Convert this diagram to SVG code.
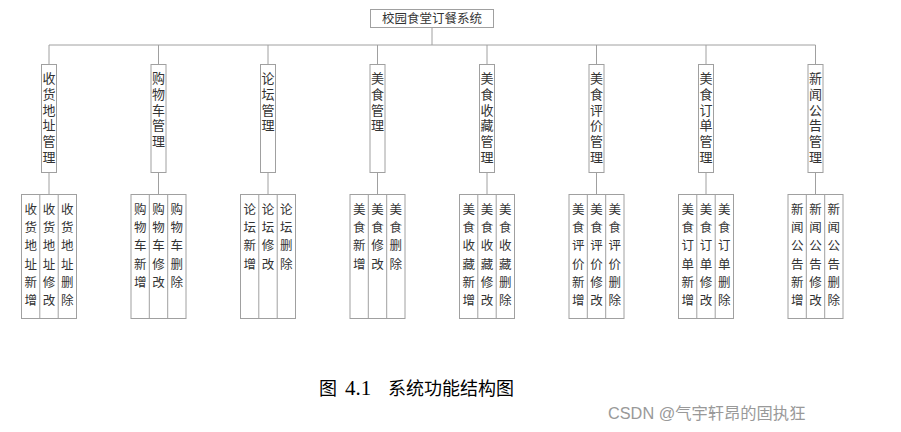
<svg xmlns="http://www.w3.org/2000/svg" width="901" height="432" viewBox="0 0 901 432">
<style>
.box{fill:#fff;stroke:#a0a0a0;stroke-width:1}
.ln{fill:none;stroke:#a0a0a0;stroke-width:1}
.t{font-family:"Noto Sans CJK SC","Noto Sans",sans-serif;fill:#333;text-anchor:middle}
.t2{font-size:13px}
.t3{font-size:12.5px}
.cap{font-family:"Liberation Serif","Noto Sans CJK SC",serif;font-size:21px;fill:#000}
.capz{font-family:"Noto Sans CJK SC",serif;font-size:18px}
.wm{font-family:"Liberation Sans","Noto Sans CJK SC",sans-serif;font-size:16.3px;fill:#999}
</style>
<rect width="901" height="432" fill="#fff"/>
<g id="connectors">
<path class="ln" d="M432,27V45M49,45H815.5M49,45V64M158.5,45V64M268,45V64M377.5,45V64M487,45V64M596.5,45V64M706,45V64M815.5,45V64"/>
<path class="ln" d="M49,173V194M158.5,173V194M268,173V194M377.5,173V194M487,173V194M596.5,173V194M706,173V194M815.5,173V194"/>
</g>
<g id="root">
<rect class="box" x="370.5" y="9.5" width="123" height="18"/>
<text class="t" x="432" y="23" font-size="12.5">校园食堂订餐系统</text>
</g>
<g id="n1">
<rect class="box" x="41.5" y="64.5" width="15" height="108"/>
<text class="t t2"><tspan x="49" y="83">收</tspan><tspan x="49" dy="15.8">货</tspan><tspan x="49" dy="15.8">地</tspan><tspan x="49" dy="15.8">址</tspan><tspan x="49" dy="15.8">管</tspan><tspan x="49" dy="15.8">理</tspan></text>
</g>
<g id="n2">
<rect class="box" x="151" y="64.5" width="15" height="108"/>
<text class="t t2"><tspan x="158.5" y="83">购</tspan><tspan x="158.5" dy="15.8">物</tspan><tspan x="158.5" dy="15.8">车</tspan><tspan x="158.5" dy="15.8">管</tspan><tspan x="158.5" dy="15.8">理</tspan></text>
</g>
<g id="n3">
<rect class="box" x="260.5" y="64.5" width="15" height="108"/>
<text class="t t2"><tspan x="268" y="83">论</tspan><tspan x="268" dy="15.8">坛</tspan><tspan x="268" dy="15.8">管</tspan><tspan x="268" dy="15.8">理</tspan></text>
</g>
<g id="n4">
<rect class="box" x="370" y="64.5" width="15" height="108"/>
<text class="t t2"><tspan x="377.5" y="83">美</tspan><tspan x="377.5" dy="15.8">食</tspan><tspan x="377.5" dy="15.8">管</tspan><tspan x="377.5" dy="15.8">理</tspan></text>
</g>
<g id="n5">
<rect class="box" x="479.5" y="64.5" width="15" height="108"/>
<text class="t t2"><tspan x="487" y="83">美</tspan><tspan x="487" dy="15.8">食</tspan><tspan x="487" dy="15.8">收</tspan><tspan x="487" dy="15.8">藏</tspan><tspan x="487" dy="15.8">管</tspan><tspan x="487" dy="15.8">理</tspan></text>
</g>
<g id="n6">
<rect class="box" x="589" y="64.5" width="15" height="108"/>
<text class="t t2"><tspan x="596.5" y="83">美</tspan><tspan x="596.5" dy="15.8">食</tspan><tspan x="596.5" dy="15.8">评</tspan><tspan x="596.5" dy="15.8">价</tspan><tspan x="596.5" dy="15.8">管</tspan><tspan x="596.5" dy="15.8">理</tspan></text>
</g>
<g id="n7">
<rect class="box" x="698.5" y="64.5" width="15" height="108"/>
<text class="t t2"><tspan x="706" y="83">美</tspan><tspan x="706" dy="15.8">食</tspan><tspan x="706" dy="15.8">订</tspan><tspan x="706" dy="15.8">单</tspan><tspan x="706" dy="15.8">管</tspan><tspan x="706" dy="15.8">理</tspan></text>
</g>
<g id="n8">
<rect class="box" x="808" y="64.5" width="15" height="108"/>
<text class="t t2"><tspan x="815.5" y="83">新</tspan><tspan x="815.5" dy="15.8">闻</tspan><tspan x="815.5" dy="15.8">公</tspan><tspan x="815.5" dy="15.8">告</tspan><tspan x="815.5" dy="15.8">管</tspan><tspan x="815.5" dy="15.8">理</tspan></text>
</g>
<g id="g1">
<rect class="box" x="21.5" y="194.5" width="55" height="124"/>
<path class="ln" d="M39.8,194.5V318.5M58.2,194.5V318.5"/>
<text class="t t3"><tspan x="30.7" y="214">收</tspan><tspan x="30.7" dy="18.2">货</tspan><tspan x="30.7" dy="18.2">地</tspan><tspan x="30.7" dy="18.2">址</tspan><tspan x="30.7" dy="18.2">新</tspan><tspan x="30.7" dy="18.2">增</tspan></text>
<text class="t t3"><tspan x="49" y="214">收</tspan><tspan x="49" dy="18.2">货</tspan><tspan x="49" dy="18.2">地</tspan><tspan x="49" dy="18.2">址</tspan><tspan x="49" dy="18.2">修</tspan><tspan x="49" dy="18.2">改</tspan></text>
<text class="t t3"><tspan x="67.3" y="214">收</tspan><tspan x="67.3" dy="18.2">货</tspan><tspan x="67.3" dy="18.2">地</tspan><tspan x="67.3" dy="18.2">址</tspan><tspan x="67.3" dy="18.2">删</tspan><tspan x="67.3" dy="18.2">除</tspan></text>
</g>
<g id="g2">
<rect class="box" x="131" y="194.5" width="55" height="124"/>
<path class="ln" d="M149.3,194.5V318.5M167.7,194.5V318.5"/>
<text class="t t3"><tspan x="140.2" y="214">购</tspan><tspan x="140.2" dy="18.2">物</tspan><tspan x="140.2" dy="18.2">车</tspan><tspan x="140.2" dy="18.2">新</tspan><tspan x="140.2" dy="18.2">增</tspan></text>
<text class="t t3"><tspan x="158.5" y="214">购</tspan><tspan x="158.5" dy="18.2">物</tspan><tspan x="158.5" dy="18.2">车</tspan><tspan x="158.5" dy="18.2">修</tspan><tspan x="158.5" dy="18.2">改</tspan></text>
<text class="t t3"><tspan x="176.8" y="214">购</tspan><tspan x="176.8" dy="18.2">物</tspan><tspan x="176.8" dy="18.2">车</tspan><tspan x="176.8" dy="18.2">删</tspan><tspan x="176.8" dy="18.2">除</tspan></text>
</g>
<g id="g3">
<rect class="box" x="240.5" y="194.5" width="55" height="124"/>
<path class="ln" d="M258.8,194.5V318.5M277.2,194.5V318.5"/>
<text class="t t3"><tspan x="249.7" y="214">论</tspan><tspan x="249.7" dy="18.2">坛</tspan><tspan x="249.7" dy="18.2">新</tspan><tspan x="249.7" dy="18.2">增</tspan></text>
<text class="t t3"><tspan x="268" y="214">论</tspan><tspan x="268" dy="18.2">坛</tspan><tspan x="268" dy="18.2">修</tspan><tspan x="268" dy="18.2">改</tspan></text>
<text class="t t3"><tspan x="286.3" y="214">论</tspan><tspan x="286.3" dy="18.2">坛</tspan><tspan x="286.3" dy="18.2">删</tspan><tspan x="286.3" dy="18.2">除</tspan></text>
</g>
<g id="g4">
<rect class="box" x="350" y="194.5" width="55" height="124"/>
<path class="ln" d="M368.3,194.5V318.5M386.7,194.5V318.5"/>
<text class="t t3"><tspan x="359.2" y="214">美</tspan><tspan x="359.2" dy="18.2">食</tspan><tspan x="359.2" dy="18.2">新</tspan><tspan x="359.2" dy="18.2">增</tspan></text>
<text class="t t3"><tspan x="377.5" y="214">美</tspan><tspan x="377.5" dy="18.2">食</tspan><tspan x="377.5" dy="18.2">修</tspan><tspan x="377.5" dy="18.2">改</tspan></text>
<text class="t t3"><tspan x="395.8" y="214">美</tspan><tspan x="395.8" dy="18.2">食</tspan><tspan x="395.8" dy="18.2">删</tspan><tspan x="395.8" dy="18.2">除</tspan></text>
</g>
<g id="g5">
<rect class="box" x="459.5" y="194.5" width="55" height="124"/>
<path class="ln" d="M477.8,194.5V318.5M496.2,194.5V318.5"/>
<text class="t t3"><tspan x="468.7" y="214">美</tspan><tspan x="468.7" dy="18.2">食</tspan><tspan x="468.7" dy="18.2">收</tspan><tspan x="468.7" dy="18.2">藏</tspan><tspan x="468.7" dy="18.2">新</tspan><tspan x="468.7" dy="18.2">增</tspan></text>
<text class="t t3"><tspan x="487" y="214">美</tspan><tspan x="487" dy="18.2">食</tspan><tspan x="487" dy="18.2">收</tspan><tspan x="487" dy="18.2">藏</tspan><tspan x="487" dy="18.2">修</tspan><tspan x="487" dy="18.2">改</tspan></text>
<text class="t t3"><tspan x="505.3" y="214">美</tspan><tspan x="505.3" dy="18.2">食</tspan><tspan x="505.3" dy="18.2">收</tspan><tspan x="505.3" dy="18.2">藏</tspan><tspan x="505.3" dy="18.2">删</tspan><tspan x="505.3" dy="18.2">除</tspan></text>
</g>
<g id="g6">
<rect class="box" x="569" y="194.5" width="55" height="124"/>
<path class="ln" d="M587.3,194.5V318.5M605.7,194.5V318.5"/>
<text class="t t3"><tspan x="578.2" y="214">美</tspan><tspan x="578.2" dy="18.2">食</tspan><tspan x="578.2" dy="18.2">评</tspan><tspan x="578.2" dy="18.2">价</tspan><tspan x="578.2" dy="18.2">新</tspan><tspan x="578.2" dy="18.2">增</tspan></text>
<text class="t t3"><tspan x="596.5" y="214">美</tspan><tspan x="596.5" dy="18.2">食</tspan><tspan x="596.5" dy="18.2">评</tspan><tspan x="596.5" dy="18.2">价</tspan><tspan x="596.5" dy="18.2">修</tspan><tspan x="596.5" dy="18.2">改</tspan></text>
<text class="t t3"><tspan x="614.8" y="214">美</tspan><tspan x="614.8" dy="18.2">食</tspan><tspan x="614.8" dy="18.2">评</tspan><tspan x="614.8" dy="18.2">价</tspan><tspan x="614.8" dy="18.2">删</tspan><tspan x="614.8" dy="18.2">除</tspan></text>
</g>
<g id="g7">
<rect class="box" x="678.5" y="194.5" width="55" height="124"/>
<path class="ln" d="M696.8,194.5V318.5M715.2,194.5V318.5"/>
<text class="t t3"><tspan x="687.7" y="214">美</tspan><tspan x="687.7" dy="18.2">食</tspan><tspan x="687.7" dy="18.2">订</tspan><tspan x="687.7" dy="18.2">单</tspan><tspan x="687.7" dy="18.2">新</tspan><tspan x="687.7" dy="18.2">增</tspan></text>
<text class="t t3"><tspan x="706" y="214">美</tspan><tspan x="706" dy="18.2">食</tspan><tspan x="706" dy="18.2">订</tspan><tspan x="706" dy="18.2">单</tspan><tspan x="706" dy="18.2">修</tspan><tspan x="706" dy="18.2">改</tspan></text>
<text class="t t3"><tspan x="724.3" y="214">美</tspan><tspan x="724.3" dy="18.2">食</tspan><tspan x="724.3" dy="18.2">订</tspan><tspan x="724.3" dy="18.2">单</tspan><tspan x="724.3" dy="18.2">删</tspan><tspan x="724.3" dy="18.2">除</tspan></text>
</g>
<g id="g8">
<rect class="box" x="788" y="194.5" width="55" height="124"/>
<path class="ln" d="M806.3,194.5V318.5M824.7,194.5V318.5"/>
<text class="t t3"><tspan x="797.2" y="214">新</tspan><tspan x="797.2" dy="18.2">闻</tspan><tspan x="797.2" dy="18.2">公</tspan><tspan x="797.2" dy="18.2">告</tspan><tspan x="797.2" dy="18.2">新</tspan><tspan x="797.2" dy="18.2">增</tspan></text>
<text class="t t3"><tspan x="815.5" y="214">新</tspan><tspan x="815.5" dy="18.2">闻</tspan><tspan x="815.5" dy="18.2">公</tspan><tspan x="815.5" dy="18.2">告</tspan><tspan x="815.5" dy="18.2">修</tspan><tspan x="815.5" dy="18.2">改</tspan></text>
<text class="t t3"><tspan x="833.8" y="214">新</tspan><tspan x="833.8" dy="18.2">闻</tspan><tspan x="833.8" dy="18.2">公</tspan><tspan x="833.8" dy="18.2">告</tspan><tspan x="833.8" dy="18.2">删</tspan><tspan x="833.8" dy="18.2">除</tspan></text>
</g>
<text class="cap" y="395"><tspan class="capz" x="319">图</tspan><tspan x="345">4.1</tspan><tspan class="capz" x="388">系统功能结构图</tspan></text>
<text class="wm" x="608" y="419">CSDN @气宇轩昂的固执狂</text>
</svg>
